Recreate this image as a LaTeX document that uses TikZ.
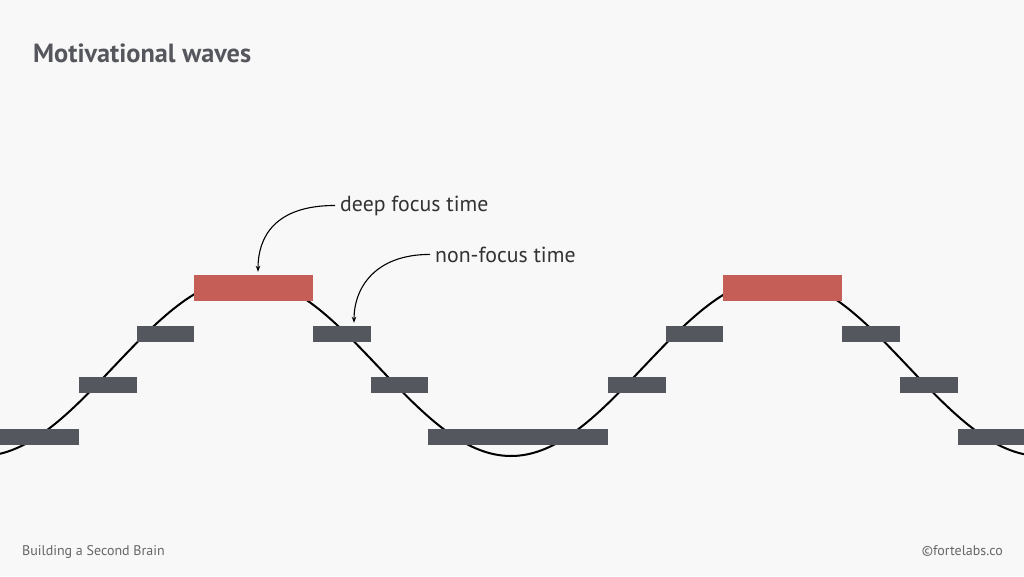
\documentclass[tikz,border=0pt]{standalone}
\usepackage{fontspec}
\setmainfont{PT Sans}
\usetikzlibrary{arrows.meta}
\definecolor{bg}{HTML}{F8F8F8}
\definecolor{bargray}{HTML}{55575E}
\definecolor{barred}{HTML}{C45E56}
\definecolor{titlegray}{HTML}{55575C}
\definecolor{annot}{HTML}{333333}
\definecolor{foot}{HTML}{666666}
\begin{document}
\begin{tikzpicture}[x=1pt,y=-1pt,
  bar/.style={fill=bargray,draw=none,inner sep=0pt,minimum height=16pt},
  redbar/.style={fill=barred,draw=none,inner sep=0pt,minimum height=26pt,minimum width=119pt},
  annotxt/.style={anchor=base west,inner sep=0pt,text=annot,font=\fontsize{21.8}{26}\selectfont},
  callout/.style={draw=black,line width=1.1pt,-{Stealth[length=6pt,width=4.5pt]}},
  foottxt/.style={inner sep=0pt,text=foot,font=\fontsize{14}{17}\selectfont}]
\fill[bg] (0,0) rectangle (1024,576);
\useasboundingbox (0,0) rectangle (1024,576);
\begin{scope}
\clip (0,0) rectangle (1024,576);
\draw[line width=2pt,black] plot[domain=-10:1034,samples=300,smooth] (\x,{367-89*cos((\x-246)*0.679245)});
\end{scope}
% bars
\node[bar,minimum width=79pt] (b1) at (39.5,436.5) {};
\node[bar,minimum width=58pt] (b2) at (108,385) {};
\node[bar,minimum width=57pt] (b3) at (165.5,334) {};
\node[redbar] (r1) at (253.5,288) {};
\node[bar,minimum width=58pt] (b4) at (342,334) {};
\node[bar,minimum width=57pt] (b5) at (399.5,385) {};
\node[bar,minimum width=180pt] (b6) at (518,436.5) {};
\node[bar,minimum width=58pt] (b7) at (637,385) {};
\node[bar,minimum width=57pt] (b8) at (694.5,334) {};
\node[redbar] (r2) at (782.5,288) {};
\node[bar,minimum width=58pt] (b9) at (871,334) {};
\node[bar,minimum width=58pt] (b10) at (929,385) {};
\node[bar,minimum width=66pt] (b11) at (991,436.5) {};
% title
\node[anchor=base west,inner sep=0pt,text=titlegray,font=\fontsize{26.3}{31}\selectfont\bfseries] (title) at (33,62) {Motivational waves};
% annotations
\node[annotxt] (deep) at (340,211) {deep focus time};
\node[annotxt] (non) at (435,262) {non-focus time};
\draw[callout] ([xshift=-5pt]deep.west) .. controls +(-60,0) and +(0,-35) .. ([shift={(4.5,-3)}]r1.north);
\draw[callout] ([xshift=-5pt]non.west) .. controls +(-55,0) and +(0,-35) .. ([shift={(12,-3)}]b4.north);
% footer
\node[foottxt,anchor=base west] (f1) at (22,555) {Building a Second Brain};
\node[foottxt,anchor=base east] (f2) at (1003,555) {©fortelabs.co};
\end{tikzpicture}
\end{document}
